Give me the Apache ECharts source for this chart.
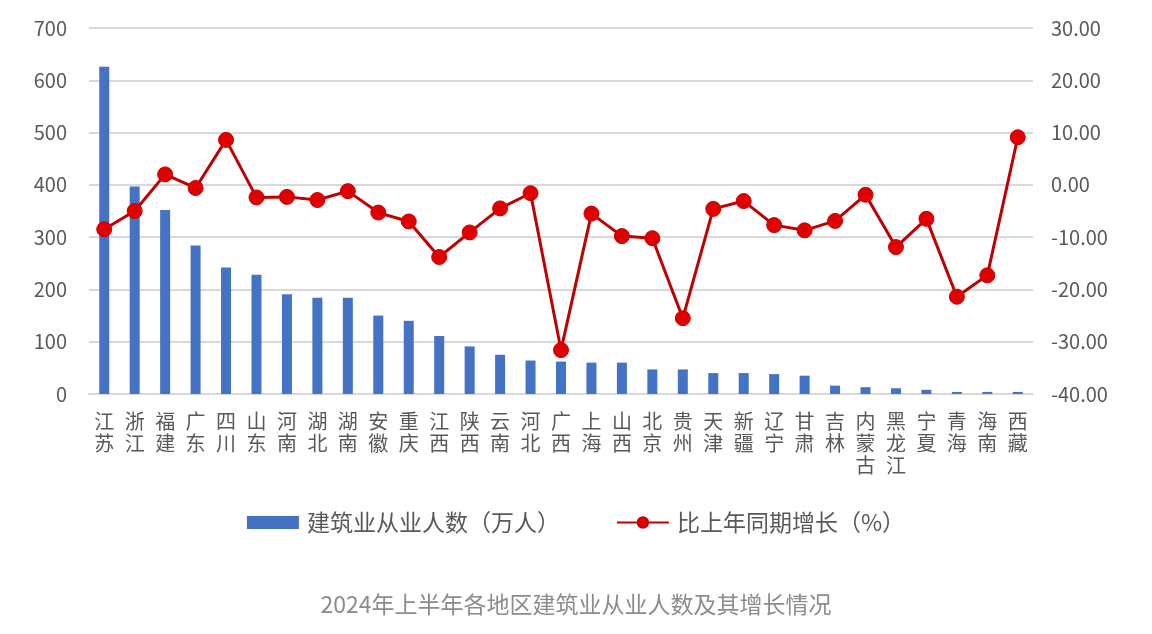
<!DOCTYPE html>
<html>
<head>
<meta charset="utf-8">
<script src="https://cdn.jsdelivr.net/npm/echarts@6/dist/echarts.min.js"></script>
<style>
  html, body { margin: 0; padding: 0; background: #fff; }
  #main { width: 1152px; height: 634px; }
</style>
</head>
<body>
<div id="main"></div>
<script>
// 地区
const regions = ['江苏', '浙江', '福建', '广东', '四川', '山东', '河南', '湖北', '湖南', '安徽',
  '重庆', '江西', '陕西', '云南', '河北', '广西', '上海', '山西', '北京', '贵州',
  '天津', '新疆', '辽宁', '甘肃', '吉林', '内蒙古', '黑龙江', '宁夏', '青海', '海南', '西藏']
// 建筑业从业人数（万人）
const workers = [626, 397, 352, 284, 242, 228, 191, 184, 184, 150,
  140, 111, 91, 75, 64, 62, 60, 60, 47, 47,
  40, 40, 38, 35, 16, 13, 11, 8, 4, 4, 4]
// 比上年同期增长（%）
const growth = [-8.5, -5.0, 2.0, -0.6, 8.6, -2.4, -2.3, -2.9, -1.2, -5.3,
  -7.0, -13.8, -9.1, -4.5, -1.6, -31.6, -5.5, -9.8, -10.2, -25.5,
  -4.6, -3.1, -7.7, -8.7, -6.9, -1.9, -11.9, -6.5, -21.4, -17.3, 9.1]

const font = 'Noto Sans CJK SC'
const gray = '#595959'

const myChart = echarts.init(document.getElementById('main'))
myChart.setOption({
  animation: false,
  textStyle: { fontFamily: font },
  title: {
    text: '2024年上半年各地区建筑业从业人数及其增长情况',
    left: 'center',
    top: 588,
    textStyle: { fontFamily: font, fontSize: 23, fontWeight: 'normal', color: '#8c8c8c' }
  },
  legend: {
    left: 'center',
    top: 506,
    itemWidth: 52,
    itemHeight: 13,
    itemGap: 56,
    textStyle: { fontFamily: font, fontSize: 23, color: gray, padding: [0, 0, 0, 3] },
    data: [
      { name: '建筑业从业人数（万人）', icon: 'rect' },
      { name: '比上年同期增长（%）' }
    ]
  },
  grid: { left: 89, right: 119, top: 28, bottom: 240, containLabel: false },
  xAxis: {
    type: 'category',
    data: regions,
    axisLine: { show: true, lineStyle: { color: '#d9d9d9', width: 2 } },
    axisTick: { show: false },
    axisLabel: {
      interval: 0,
      margin: 16,
      fontSize: 20,
      lineHeight: 22,
      color: gray,
      verticalAlign: 'top',
      formatter: v => v.split('').join('\n')
    }
  },
  yAxis: [
    {
      type: 'value',
      min: 0,
      max: 700,
      interval: 100,
      axisLine: { show: false },
      axisTick: { show: false },
      axisLabel: { fontSize: 20, color: gray, margin: 22 },
      splitLine: { lineStyle: { color: '#d9d9d9', width: 2 } }
    },
    {
      type: 'value',
      min: -40,
      max: 30,
      interval: 10,
      axisLine: { show: false },
      axisTick: { show: false },
      axisLabel: { fontSize: 20, color: gray, margin: 18, formatter: v => v.toFixed(2) },
      splitLine: { show: false }
    }
  ],
  series: [
    {
      name: '建筑业从业人数（万人）',
      type: 'bar',
      data: workers,
      barWidth: 10,
      itemStyle: { color: '#4472c4' }
    },
    {
      name: '比上年同期增长（%）',
      type: 'line',
      yAxisIndex: 1,
      data: growth,
      symbol: 'circle',
      symbolSize: 15,
      lineStyle: { color: '#c00000', width: 3 },
      itemStyle: { color: '#e00000', borderColor: '#c80000', borderWidth: 1 }
    }
  ]
})
</script>
</body>
</html>
